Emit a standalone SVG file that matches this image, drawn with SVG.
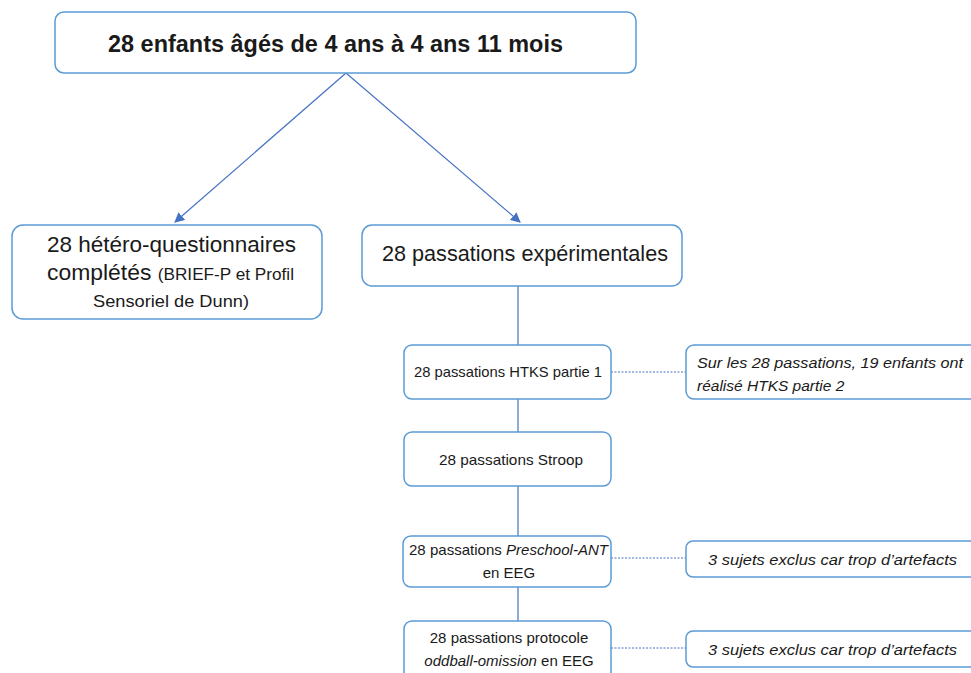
<svg xmlns="http://www.w3.org/2000/svg" width="971" height="673" viewBox="0 0 971 673">
<style>
.box{fill:#fff;stroke:#5B9BD5;stroke-width:1.5}
.ln{stroke:#4472C4;stroke-width:1.2;fill:none}
.dash{stroke:#4472C4;stroke-width:1;stroke-dasharray:2,1.5;fill:none}
text{font-family:"Liberation Sans",Arial,sans-serif;fill:#1a1a1a}
.it{font-style:italic}
</style>
<defs>
<marker id="ah" viewBox="0 0 10 10" refX="9" refY="5" markerWidth="10" markerHeight="10" orient="auto" markerUnits="userSpaceOnUse">
<path d="M0,0 L10,5 L0,10 z" fill="#4472C4"/>
</marker>
</defs>
<rect width="971" height="673" fill="#fff"/>
<g id="connectors">
<line class="ln" x1="346" y1="73" x2="175" y2="222" marker-end="url(#ah)"/>
<line class="ln" x1="346" y1="73" x2="520" y2="222" marker-end="url(#ah)"/>
<line class="ln" x1="518" y1="286" x2="518" y2="345"/>
<line class="ln" x1="518" y1="399" x2="518" y2="432"/>
<line class="ln" x1="518" y1="486" x2="518" y2="536"/>
<line class="ln" x1="518" y1="587" x2="518" y2="621"/>
<line class="dash" x1="611" y1="372" x2="686" y2="372"/>
<line class="dash" x1="611" y1="558" x2="686" y2="558"/>
<line class="dash" x1="611" y1="648" x2="686" y2="648"/>
</g>
<g id="top">
<rect class="box" x="55" y="12" width="581" height="61" rx="9"/>
<text x="108" y="52" font-size="23" font-weight="bold" textLength="455" lengthAdjust="spacingAndGlyphs">28 enfants âgés de 4 ans à 4 ans 11 mois</text>
</g>
<g id="questionnaires">
<rect class="box" x="12" y="225" width="310" height="94" rx="11"/>
<text x="47" y="252" font-size="22" textLength="249" lengthAdjust="spacingAndGlyphs">28 hétéro-questionnaires</text>
<text x="47" y="280" textLength="247" lengthAdjust="spacingAndGlyphs"><tspan font-size="22">complétés </tspan><tspan font-size="16.5">(BRIEF-P et Profil</tspan></text>
<text x="93" y="307" font-size="16.5" textLength="156" lengthAdjust="spacingAndGlyphs">Sensoriel de Dunn)</text>
</g>
<g id="passations">
<rect class="box" x="362" y="225" width="320" height="61" rx="10"/>
<text x="382" y="261" font-size="21.5" textLength="286" lengthAdjust="spacingAndGlyphs">28 passations expérimentales</text>
</g>
<g id="htks">
<rect class="box" x="404" y="345" width="207" height="54" rx="8"/>
<text x="414" y="377" font-size="15" textLength="188" lengthAdjust="spacingAndGlyphs">28 passations HTKS partie 1</text>
</g>
<g id="htks-note">
<rect class="box" x="686" y="345" width="300" height="54" rx="8"/>
<text class="it" x="697" y="368" font-size="15.5" textLength="266" lengthAdjust="spacingAndGlyphs">Sur les 28 passations,  19 enfants ont</text>
<text class="it" x="697" y="391" font-size="15.5">réalisé HTKS partie 2</text>
</g>
<g id="stroop">
<rect class="box" x="404" y="432" width="207" height="54" rx="8"/>
<text x="439" y="465" font-size="15" textLength="144" lengthAdjust="spacingAndGlyphs">28 passations Stroop</text>
</g>
<g id="ant">
<rect class="box" x="403" y="536" width="208" height="51" rx="8"/>
<text x="409" y="555" font-size="15" textLength="199" lengthAdjust="spacingAndGlyphs">28 passations <tspan class="it">Preschool-ANT</tspan></text>
<text x="509" y="578" text-anchor="middle" font-size="15">en EEG</text>
</g>
<g id="ant-note">
<rect class="box" x="686" y="541" width="300" height="36" rx="7"/>
<text class="it" x="708" y="565" font-size="15.5" textLength="249" lengthAdjust="spacingAndGlyphs">3 sujets exclus car trop d’artefacts</text>
</g>
<g id="oddball">
<rect class="box" x="404" y="621" width="207" height="60" rx="8"/>
<text x="509" y="643" text-anchor="middle" font-size="15">28 passations protocole</text>
<text x="509" y="666" text-anchor="middle" font-size="15"><tspan class="it">oddball-omission</tspan> en EEG</text>
</g>
<g id="oddball-note">
<rect class="box" x="686" y="631" width="300" height="36" rx="7"/>
<text class="it" x="708" y="655" font-size="15.5" textLength="249" lengthAdjust="spacingAndGlyphs">3 sujets exclus car trop d’artefacts</text>
</g>
</svg>
